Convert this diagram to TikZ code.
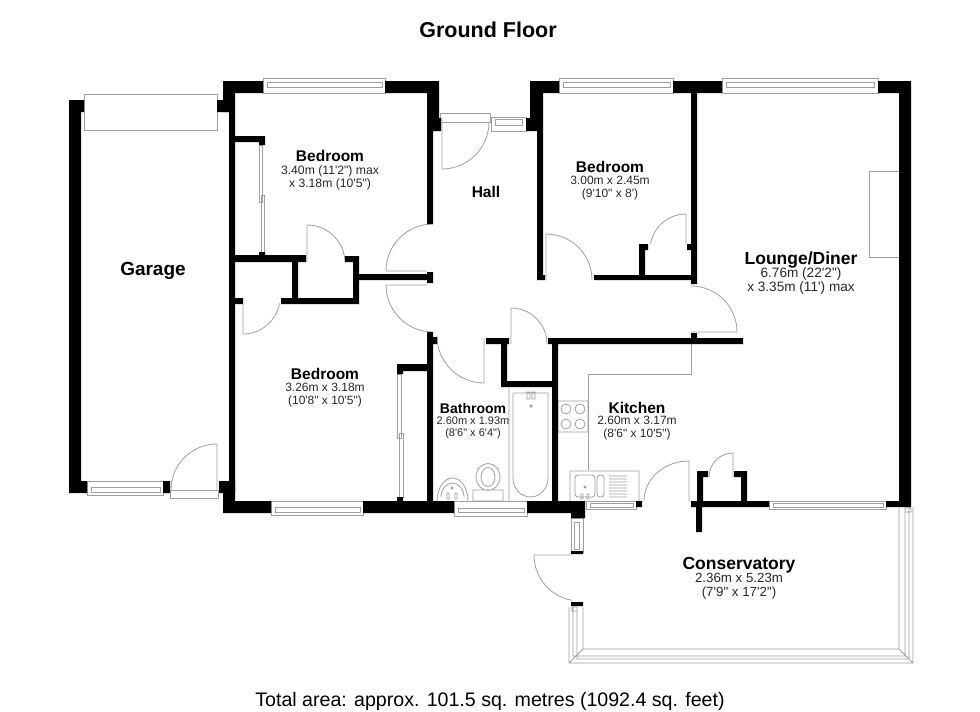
\documentclass[tikz,border=0pt]{standalone}
\usepackage{fontspec}
\usetikzlibrary{positioning}
\newfontfamily\planfont{Liberation Sans}
\definecolor{fixgrey}{gray}{0.62}
\definecolor{labelgrey}{gray}{0.15}
\tikzset{
    fixline/.style = {draw = fixgrey, line width = 0.8pt},
    doorline/.style = {draw = fixgrey, line width = 0.8pt},
    wallfill/.style = {fill = black, draw = none},
    roomname/.style = {inner sep = 0pt, anchor = base, text depth = 2pt, font = \planfont\bfseries\fontsize{#1}{#1}\selectfont},
    roomname/.default = 15.5,
    roomsize/.style 2 args = {inner sep = 0pt, align = center, text = labelgrey, font = \planfont\fontsize{#1}{#2}\selectfont},
}

\begin{document}
\begin{tikzpicture}[x = 1pt, y = -1pt]
    \useasboundingbox (0,0) rectangle (980,712);
    % fittings
    \draw[fixline]
    (84,94) rectangle (217,130)
    (869,171) rectangle (899,257)
    (691,344) -- (691,374) -- (588,374) -- (588,470)
    (170,490) rectangle (218,498)
    (440,113) rectangle (490,122);
    % windows
    \draw[fixline]
    (263,78) rectangle (385,93) (267,82) rectangle (382,87)
    (491,117) rectangle (526,131) (495,119) rectangle (522,125)
    (559,78) rectangle (673,93) (563,82) rectangle (670,87)
    (722,78) rectangle (878,93) (726,82) rectangle (874,87)
    (87,481) rectangle (163,495) (91,487) rectangle (160,492)
    (271,501) rectangle (363,515) (275,507) rectangle (360,512)
    (454,501) rectangle (527,516) (458,508) rectangle (524,512)
    (586,501) rectangle (636,509) (590,503) rectangle (633,507)
    (769,501) rectangle (886,509) (773,503) rectangle (883,507)
    (571,518) rectangle (583,552) (574,522) rectangle (579,549);
    % sliding wardrobe doors
    \draw[fixline]
    (259,145) rectangle (262,202) (261,195) rectangle (264,252)
    (397,374) rectangle (401,438) (399,433) rectangle (403,497);
    % conservatory frame
    \draw[fixline]
    (569,607) -- (569,663) -- (913,663) -- (913,507)
    (583,607) -- (583,649) -- (899,649) -- (899,507)
    (573,607) -- (573,656) -- (905,656) -- (905,507)
    (577,607) -- (577,659) -- (909,659) -- (909,507)
    (569,663) -- (583,649) (913,663) -- (899,649)
    (572,607) rectangle (577,611) (905,508) rectangle (911,512);
    % bath
    \draw[fixline]
    (509,387) -- (509,501)
    (513,393) -- (548,393) -- (548,478) arc[start angle = 0, end angle = 180, x radius = 17.5, y radius = 19] -- cycle
    (527,392) rectangle (530,399) (532,392) rectangle (535,399)
    (531,406) circle (1.3);
    % toilet
    \draw[fixline]
    (488,477) ellipse (12 and 13.5) (488,477) ellipse (7 and 9.5)
    (473,490) rectangle (503,501);
    % basin
    \draw[fixline]
    (437,501) arc[start angle = 180, end angle = 360, x radius = 15.5, y radius = 23]
    (441,497) arc[start angle = 180, end angle = 360, x radius = 11.5, y radius = 14]
    (447,493) rectangle (449,499) (455,493) rectangle (457,499)
    (452,488) circle (1);
    % hob
    \draw[fixline]
    (558,401) rectangle (588,432)
    (566,409) circle (5) (580,409) circle (5)
    (566,424) circle (5) (580,424) circle (5);
    % sink unit
    \draw[fixline, rounded corners = 3pt]
    (575,475) rectangle (595,497)
    (597,475) rectangle (604,497);
    \draw[fixline]
    (570,501) -- (570,471) -- (639,471) -- (639,501)
    (581,494) rectangle (583,499) (587,494) rectangle (589,499)
    (585,487) circle (1)
    (609,476) -- (627,476) (609,479) -- (627,479) (609,482) -- (627,482) (609,485) -- (627,485)
    (609,488) -- (627,488) (609,491) -- (627,491) (609,494) -- (627,494) (609,497) -- (627,497);
    % doors
    \draw[doorline] (307,262) -- (307,225) arc[start angle = 270, end angle = 360, radius = 38];
    \draw[doorline] (427,271) -- (386,271) arc[start angle = 180, end angle = 270, radius = 47];
    \draw[doorline] (427,285) -- (386,285) arc[start angle = 180, end angle = 90, radius = 47];
    \draw[doorline] (243,304) -- (243,334) arc[start angle = 90, end angle = 10, radius = 37];
    \draw[doorline] (442,118) -- (442,169) arc[start angle = 90, end angle = 0, radius = 47];
    \draw[doorline] (546,280) -- (546,234) arc[start angle = 270, end angle = 360, radius = 46];
    \draw[doorline] (686,244) -- (686,214) arc[start angle = 270, end angle = 190, radius = 36];
    \draw[doorline] (691,332) -- (737,332) arc[start angle = 0, end angle = -90, radius = 46];
    \draw[doorline] (511,344) -- (511,308) arc[start angle = 270, end angle = 360, radius = 36];
    \draw[doorline] (484,338) -- (484,383) arc[start angle = 90, end angle = 180, radius = 47];
    \draw[doorline] (689,501) -- (689,461) arc[start angle = 270, end angle = 180, x radius = 45, y radius = 40];
    \draw[doorline] (733,477) -- (733,453) arc[start angle = 270, end angle = 180, radius = 24];
    \draw[doorline] (217,490) -- (217,444) arc[start angle = 270, end angle = 180, radius = 46];
    \draw[doorline] (571,555) -- (534,555) arc[start angle = 180, end angle = 100, radius = 46];
    % walls, garage
    \fill[wallfill]
    (69,100) rectangle (84,112)
    (69,100) rectangle (81,493)
    (69,481) rectangle (87,493)
    (163,481) rectangle (170,493)
    (217,100) rectangle (230,112)
    (219,481) rectangle (235,493);
    % walls, outer
    \fill[wallfill]
    (223,81) rectangle (263,93)
    (223,81) rectangle (235,112)
    (229,81) rectangle (235,513)
    (223,493) rectangle (235,513)
    (223,501) rectangle (271,513)
    (385,81) rectangle (439,93)
    (427,81) rectangle (439,118)
    (427,118) rectangle (441,131)
    (427,131) rectangle (433,224)
    (530,81) rectangle (559,93)
    (530,81) rectangle (543,118)
    (526,118) rectangle (543,131)
    (673,81) rectangle (722,93)
    (878,81) rectangle (911,93)
    (899,81) rectangle (911,507)
    (886,501) rectangle (911,507)
    (363,501) rectangle (454,513)
    (527,501) rectangle (585,513)
    (571,513) rectangle (585,518)
    (636,501) rectangle (642,507)
    (691,501) rectangle (769,507)
    (696,507) rectangle (702,532)
    (571,551) rectangle (583,554)
    (571,602) rectangle (583,606);
    % walls, inner
    \fill[wallfill]
    (235,136) rectangle (265,142)
    (259,136) rectangle (265,145)
    (259,252) rectangle (265,255)
    (235,255) rectangle (306,262)
    (292,255) rectangle (298,303)
    (345,256) rectangle (359,262)
    (353,256) rectangle (359,304)
    (281,298) rectangle (359,304)
    (235,298) rectangle (243,304)
    (359,274) rectangle (427,280)
    (427,272) rectangle (433,283)
    (427,332) rectangle (433,501)
    (433,337) rectangle (437,344)
    (397,364) rectangle (427,371)
    (397,364) rectangle (403,374)
    (397,497) rectangle (403,501)
    (537,131) rectangle (543,280)
    (537,275) rectangle (545,280)
    (594,275) rectangle (691,280)
    (639,244) rectangle (645,275)
    (639,244) rectangle (648,250)
    (687,244) rectangle (691,250)
    (691,93) rectangle (697,284)
    (486,338) rectangle (509,344)
    (501,338) rectangle (507,387)
    (501,381) rectangle (558,387)
    (548,338) rectangle (743,344)
    (552,338) rectangle (558,501)
    (691,333) rectangle (697,344)
    (697,471) rectangle (708,477)
    (697,471) rectangle (703,501)
    (734,471) rectangle (747,477)
    (741,471) rectangle (747,501);
    % labels
    \node[roomname = 21.5] (groundfloor) at (488,37) {Ground Floor};
    \node[roomname = 19] (garage) at (153,275) {Garage};
    \node[roomname] (bedroomtop) at (330,161) {Bedroom};
    \node[roomsize = {12.2}{12.6}, below = 2.2pt of bedroomtop] (bedroomtopsize) {3.40m (11'2") max\\x 3.18m (10'5")};
    \node[roomname] (hall) at (486,197) {Hall};
    \node[roomname] (bedroomfront) at (610,172) {Bedroom};
    \node[roomsize = {12}{13}, below = 2.2pt of bedroomfront] (bedroomfrontsize) {3.00m x 2.45m\\(9'10" x 8')};
    \node[roomname = 17.5] (lounge) at (801,264) {Lounge/Diner};
    \node[roomsize = {13.6}{14}, below = 1pt of lounge] (loungesize) {6.76m (22'2")\\x 3.35m (11') max};
    \node[roomname] (bedroomlow) at (325,379) {Bedroom};
    \node[roomsize = {12}{12.6}, below = 2.2pt of bedroomlow] (bedroomlowsize) {3.26m x 3.18m\\(10'8" x 10'5")};
    \node[roomname = 14] (bathroom) at (473,413) {Bathroom};
    \node[roomsize = {11}{12}, below = 1pt of bathroom] (bathroomsize) {2.60m x 1.93m\\(8'6" x 6'4")};
    \node[roomname] (kitchen) at (637,413) {Kitchen};
    \node[roomsize = {12}{12.6}, below = 1.2pt of kitchen] (kitchensize) {2.60m x 3.17m\\(8'6" x 10'5")};
    \node[roomname = 17.5] (conservatory) at (739,569) {Conservatory};
    \node[roomsize = {13.3}{14}, below = 2pt of conservatory] (conservatorysize) {2.36m x 5.23m\\(7'9" x 17'2")};
    \node[inner sep = 0pt, anchor = base, font = \planfont\fontsize{19.6}{21}\selectfont] (totalarea) at (490,706) {Total area: approx. 101.5 sq. metres (1092.4 sq. feet)};
\end{tikzpicture}
\end{document}
